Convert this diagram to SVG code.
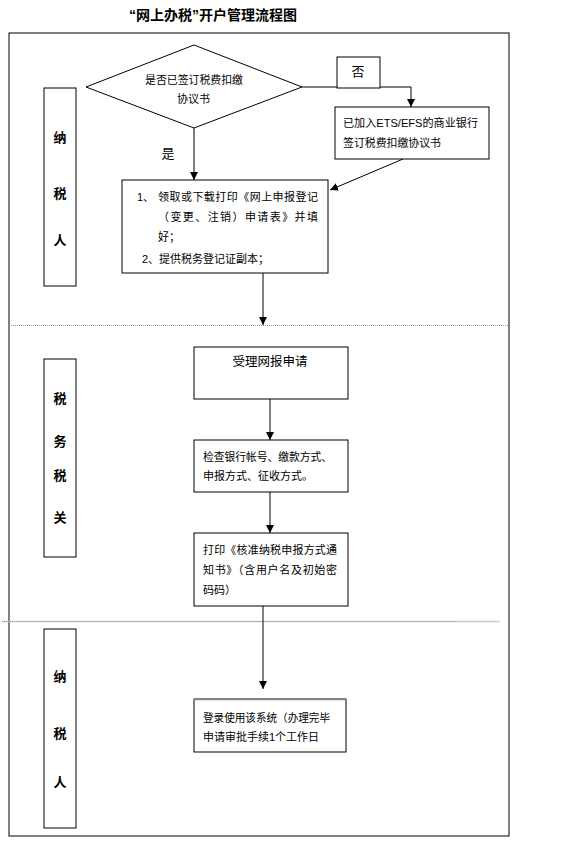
<svg xmlns="http://www.w3.org/2000/svg" width="578" height="846" viewBox="0 0 578 846">
<style>
text{font-family:"Liberation Sans","Noto Sans CJK SC",sans-serif;fill:#000}
.t{font-size:11px}
.lane{font-size:13px;font-weight:bold;text-anchor:middle}
.box{fill:#fff;stroke:#000;stroke-width:1}
.ln{fill:none;stroke:#000;stroke-width:1}
.sep{stroke:#999;stroke-width:1;stroke-dasharray:1 1}
</style>
<defs>
<marker id="ah" viewBox="0 0 8 8" refX="8" refY="4" markerWidth="8" markerHeight="8" markerUnits="userSpaceOnUse" orient="auto">
<path d="M0,0 L8,4 L0,8 Z" fill="#000"/>
</marker>
</defs>
<rect width="578" height="846" fill="#fff"/>
<text x="213" y="20" text-anchor="middle" style="font-size:14px;font-weight:bold">“网上办税”开户管理流程图</text>
<rect x="9" y="33" width="500" height="803" fill="none" stroke="#000" stroke-width="1"/>
<line class="sep" x1="9" y1="325.5" x2="509" y2="325.5"/>
<line x1="2" y1="621.5" x2="500" y2="621.5" stroke="#ccc" stroke-width="1.5"/>
<line class="sep" x1="2" y1="621.5" x2="455" y2="621.5"/>

<g id="lane1">
<rect class="box" x="44" y="88" width="32" height="198"/>
<text class="lane" x="60" y="142">纳</text>
<text class="lane" x="60" y="198">税</text>
<text class="lane" x="60" y="245">人</text>
</g>
<g id="lane2">
<rect class="box" x="44" y="359" width="32" height="198"/>
<text class="lane" x="60" y="403">税</text>
<text class="lane" x="60" y="446">务</text>
<text class="lane" x="60" y="480">税</text>
<text class="lane" x="60" y="522">关</text>
</g>
<g id="lane3">
<rect class="box" x="44" y="629" width="32" height="199"/>
<text class="lane" x="60" y="681">纳</text>
<text class="lane" x="60" y="738">税</text>
<text class="lane" x="60" y="787">人</text>
</g>

<g id="decision">
<polygon class="box" points="194,45 302,87 194,128 86,87"/>
<text class="t" x="145" y="84" textLength="98" lengthAdjust="spacingAndGlyphs">是否已签订税费扣缴</text>
<text class="t" x="177" y="103">协议书</text>
</g>
<g id="no">
<rect class="box" x="337" y="57" width="43" height="31"/>
<text x="358" y="76" text-anchor="middle" style="font-size:13px">否</text>
</g>
<g id="bank">
<rect class="box" x="335" y="107" width="154" height="52"/>
<text class="t" x="343" y="127" textLength="135" lengthAdjust="spacingAndGlyphs">已加入ETS/EFS的商业银行</text>
<text class="t" x="343" y="147" textLength="98" lengthAdjust="spacingAndGlyphs">签订税费扣缴协议书</text>
</g>
<g id="yes">
<text x="168" y="158" text-anchor="middle" style="font-size:13px">是</text>
</g>
<g id="apply">
<rect class="box" x="122" y="180" width="206" height="93"/>
<text class="t" x="137" y="201">1、</text>
<text class="t" x="158" y="201" textLength="160" lengthAdjust="spacing">领取或下载打印《网上申报登记</text>
<text class="t" x="158" y="221" textLength="160" lengthAdjust="spacing">（变更、注销）申请表》并填</text>
<text class="t" x="158" y="241">好；</text>
<text class="t" x="142" y="263">2、提供税务登记证副本；</text>
</g>
<g id="accept">
<rect class="box" x="194" y="347" width="154" height="52"/>
<text x="270" y="366" text-anchor="middle" style="font-size:12.5px">受理网报申请</text>
</g>
<g id="check">
<rect class="box" x="194" y="440" width="154" height="52"/>
<text class="t" x="203" y="461" textLength="129" lengthAdjust="spacingAndGlyphs">检查银行帐号、缴款方式、</text>
<text class="t" x="203" y="480">申报方式、征收方式。</text>
</g>
<g id="print">
<rect class="box" x="194" y="533" width="154" height="73"/>
<text class="t" x="203" y="554" textLength="134" lengthAdjust="spacing">打印《核准纳税申报方式通</text>
<text class="t" x="203" y="574" textLength="134" lengthAdjust="spacing">知书》（含用户名及初始密</text>
<text class="t" x="203" y="594">码码）</text>
</g>
<g id="login">
<rect class="box" x="194" y="699" width="152" height="53"/>
<line x1="194" y1="699.5" x2="346" y2="699.5" stroke="#888" stroke-width="1.5"/>
<text class="t" x="203" y="722" textLength="127" lengthAdjust="spacingAndGlyphs">登录使用该系统（办理完毕</text>
<text class="t" x="203" y="741">申请审批手续1个工作日</text>
</g>

<g id="connectors">
<polyline class="ln" points="302,87 337,87"/>
<polyline class="ln" points="380,87 411,87 411,107" marker-end="url(#ah)"/>
<line class="ln" x1="194" y1="128" x2="194" y2="180" marker-end="url(#ah)"/>
<line class="ln" x1="403" y1="159" x2="330" y2="190" marker-end="url(#ah)"/>
<line class="ln" x1="263" y1="273" x2="263" y2="325" marker-end="url(#ah)"/>
<line class="ln" x1="270" y1="399" x2="270" y2="440" marker-end="url(#ah)"/>
<line class="ln" x1="270" y1="492" x2="270" y2="533" marker-end="url(#ah)"/>
<line class="ln" x1="263" y1="606" x2="263" y2="689" marker-end="url(#ah)"/>
</g>
</svg>
